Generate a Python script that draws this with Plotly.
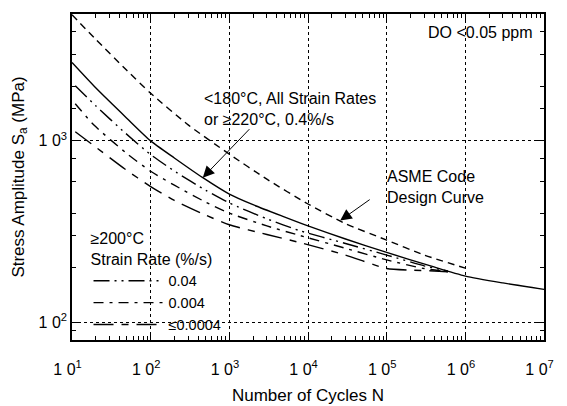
import math
import plotly.graph_objects as go

# ---- data ----
N_main = [10, 20, 50, 100, 200, 460, 1000, 2000, 4700, 1e4, 3e4, 1e5, 3.7e5, 1e6, 3e6, 1e7]
S_main = [2700, 1960, 1330, 1000, 805, 627, 509, 445, 385, 340, 288, 243, 204, 180, 165, 152]

N_asme = [10, 20, 50, 100, 300, 1000, 3000, 1e4, 3e4, 1e5, 3e5, 1e6]
S_asme = [4950, 3630, 2440, 1830, 1225, 845, 615, 449, 350, 284, 235, 199]

N_r004 = [11, 20, 47, 100, 213, 500, 1000, 3000, 7700, 3e4, 1e5, 3e5, 6e5]
S_r004 = [2015, 1560, 1110, 840, 670, 535, 455, 372, 321, 272, 235, 205, 192]

N_r0004 = [11, 19, 50, 100, 200, 500, 1000, 3000, 7700, 3e4, 1e5, 3e5, 6e5]
S_r0004 = [1603, 1222, 850, 680, 570, 460, 400, 340, 302, 256, 221, 198, 190]

N_r00004 = [11, 19, 47, 100, 200, 500, 1000, 3000, 7700, 3e4, 1e5, 2e5, 4e5, 6e5]
S_r00004 = [1123, 940, 700, 560, 470, 390, 345, 305, 276, 235, 198, 194, 192, 190]

NB = "\u00a0\u00a0"
x_tickvals = [1e1, 1e2, 1e3, 1e4, 1e5, 1e6, 1e7]
x_ticktext = ["1 0<sup>1</sup>" + NB, "1 0<sup>2</sup>" + NB, "1 0<sup>3</sup>" + NB, "1 0<sup>4</sup>" + NB,
              "1 0<sup>5</sup>" + NB, "1 0<sup>6</sup>" + NB, "1 0<sup>7</sup>" + NB]
y_tickvals = [1e2, 1e3]
y_ticktext = ["1 0<sup>2</sup>", "1 0<sup>3</sup>"]
y_minor = [90, 200, 300, 400, 600, 800, 1500, 2000, 3000, 4000]
x_minor = [m * 10 ** e for e in range(1, 7) for m in range(2, 10)]

FONT = "Liberation Sans, Arial, Helvetica, sans-serif"
LW = 1.4
SM = 0.6

fig = go.Figure()
fig.add_trace(go.Scatter(x=N_asme, y=S_asme, mode="lines", showlegend=False,
                         line=dict(color="black", width=LW, dash="7px,5px", shape="spline", smoothing=SM)))
fig.add_trace(go.Scatter(x=N_main, y=S_main, mode="lines", showlegend=False,
                         line=dict(color="black", width=LW, shape="spline", smoothing=SM)))
fig.add_trace(go.Scatter(x=N_r004, y=S_r004, mode="lines", name="0.04",
                         line=dict(color="black", width=LW, dash="16px,5px,2px,5px,2px,5px", shape="spline", smoothing=SM)))
fig.add_trace(go.Scatter(x=N_r0004, y=S_r0004, mode="lines", name="0.004",
                         line=dict(color="black", width=LW, dash="10px,6px,3px,6px", shape="spline", smoothing=SM)))
fig.add_trace(go.Scatter(x=N_r00004, y=S_r00004, mode="lines", name="≤0.0004",
                         line=dict(color="black", width=LW, dash="20px,8px,7px,8px", shape="spline", smoothing=SM)))

ann = []
ann.append(dict(xref="paper", yref="paper", x=0.276, y=0.710, xanchor="left", yanchor="middle",
                align="left", showarrow=False,
                text="<180°C, All Strain Rates<br>or ≥220°C, 0.4%/s", font=dict(size=16)))
ann.append(dict(xref="paper", yref="paper", x=0.663, y=0.468, xanchor="left", yanchor="middle",
                align="left", showarrow=False,
                text="ASME Code<br>Design Curve", font=dict(size=16)))
ann.append(dict(xref="paper", yref="paper", x=0.749, y=0.943, xanchor="left", yanchor="middle",
                align="left", showarrow=False, text="DO <0.05 ppm", font=dict(size=16)))


def hollow_arrow(n, s, ax, ay):
    """black arrow with an open (white-filled) head pointing at (n, s)"""
    out = [dict(xref="x", yref="y", x=math.log10(n), y=math.log10(s), ax=ax, ay=ay,
                text="", showarrow=True, arrowhead=2, arrowsize=2.3, arrowwidth=1, arrowcolor="black")]
    L = math.hypot(ax, ay)
    k = 5.0 / L
    out.append(dict(xref="x", yref="y", x=math.log10(n), y=math.log10(s), ax=ax * k, ay=ay * k,
                    text="", showarrow=True, arrowhead=2, arrowsize=15.5, arrowwidth=0.1,
                    arrowcolor="white", standoff=1.3))
    return out


ann += hollow_arrow(460, 627, 48, -50)
ann += hollow_arrow(25650, 364, 31, -22)

axis_common = dict(showline=True, linecolor="black", linewidth=1.5, mirror="allticks",
                   ticks="inside", ticklen=7, tickcolor="black", tickwidth=1,
                   showgrid=True, gridcolor="black", griddash="dot", gridwidth=1,
                   zeroline=False, tickfont=dict(size=16, color="black"))

fig.update_xaxes(type="log", range=[1, 7], tickmode="array", tickvals=x_tickvals, ticktext=x_ticktext,
                 minor=dict(tickmode="array", tickvals=x_minor, ticks="inside", ticklen=4,
                            tickcolor="black", showgrid=False),
                 title=dict(text="Number of Cycles N", font=dict(size=17), standoff=12),
                 ticklabelstandoff=14, **axis_common)
fig.update_yaxes(type="log", range=[math.log10(80), math.log10(5000)], tickmode="array",
                 tickvals=y_tickvals, ticktext=y_ticktext,
                 minor=dict(tickmode="array", tickvals=y_minor, ticks="inside", ticklen=4,
                            tickcolor="black", showgrid=False),
                 title=dict(text="Stress Amplitude S<sub>a</sub> (MPa)", font=dict(size=17), standoff=10),
                 **axis_common)

fig.update_layout(
    width=559, height=398,
    margin=dict(l=64, r=20, t=4, b=63),
    paper_bgcolor="white", plot_bgcolor="white",
    font=dict(family=FONT, color="black", size=16),
    annotations=ann,
    legend=dict(x=0.035, y=0.358, xanchor="left", yanchor="top", bgcolor="rgba(0,0,0,0)",
                title=dict(text="≥200°C<br>Strain Rate (%/s)", font=dict(size=16)),
                font=dict(size=14.5), itemwidth=70, tracegroupgap=0),
)

fig.write_html("out.html")
